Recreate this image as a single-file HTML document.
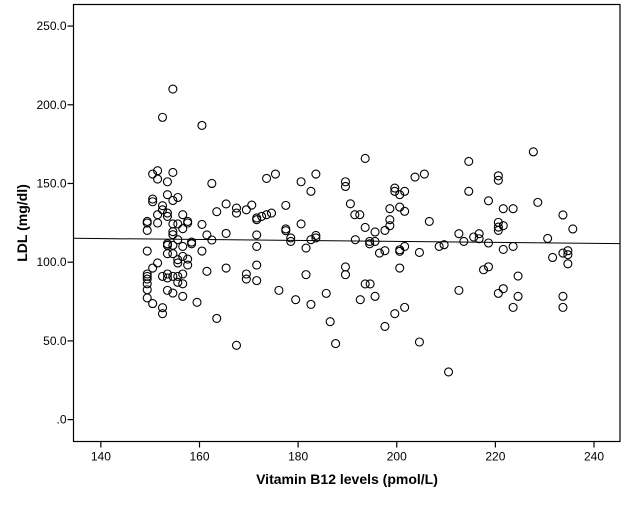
<!DOCTYPE html>
<html><head><meta charset="utf-8"><style>
html,body{margin:0;padding:0;background:#fff;}
svg{display:block;font-family:"Liberation Sans",Arial,sans-serif;}
</style></head><body>
<svg id="chart" width="625" height="526" viewBox="0 0 625 526">
<rect x="73.5" y="4.5" width="546.5" height="437" fill="#fff" stroke="#000" stroke-width="1.2"/>
<g id="xticks"></g>
<g id="yticks"></g>
<g id="fit"></g>
<g id="points"></g>
<text x="347" y="484" text-anchor="middle" font-size="14" font-weight="bold">Vitamin B12 levels (pmol/L)</text>
<text x="0" y="0" transform="translate(27,223) rotate(-90)" text-anchor="middle" font-size="14" font-weight="bold">LDL (mg/dl)</text>
</svg>
<script>
const xTicks=[140,160,180,200,220,240];
const yTicks=[0,50,100,150,200,250];
const yTickLabels=[".0","50.0","100.0","150.0","200.0","250.0"];
const b12=[154.6,152.5,160.5,150.5,151.5,151.5,154.6,153.5,162.5,173.6,175.4,150.5,150.5,152.5,153.5,154.6,155.6,152.5,151.5,153.5,153.5,149.4,149.4,149.4,151.5,154.6,155.6,156.6,156.6,157.6,157.6,160.5,163.5,165.4,167.5,167.5,169.5,170.6,171.6,171.6,172.6,173.6,174.6,154.6,154.6,155.6,153.5,153.5,154.6,158.4,158.4,161.5,162.5,165.4,171.6,171.6,156.6,149.4,153.5,154.6,160.5,155.6,155.6,156.6,157.6,157.6,151.5,150.5,149.4,149.4,149.4,149.4,149.4,149.4,150.5,152.5,152.5,152.5,153.5,153.5,154.6,155.6,156.6,155.6,156.6,153.5,154.6,156.6,159.5,161.5,165.4,169.5,169.5,171.6,171.6,163.5,167.5,176.1,
180.6,183.6,182.6,189.6,189.6,193.6,203.7,205.6,199.6,199.6,200.6,201.6,177.5,190.6,191.5,192.5,198.6,200.6,201.6,198.6,198.6,197.6,193.6,195.6,206.6,180.6,177.5,177.5,178.5,178.5,182.6,183.6,183.6,181.6,191.6,194.5,194.5,195.6,196.5,197.6,200.6,200.6,201.6,204.6,208.6,209.6,181.6,189.6,189.6,200.6,179.5,182.6,185.7,193.6,194.6,192.6,195.6,199.6,201.6,186.5,197.6,187.6,204.6,210.5,
227.7,214.6,220.6,220.6,214.6,218.6,228.6,221.6,223.6,233.7,220.6,220.6,220.6,221.6,235.7,212.6,216.7,215.6,216.7,213.6,218.6,230.6,221.6,223.6,231.6,233.7,234.7,234.7,234.7,217.6,218.6,224.6,212.6,220.6,221.6,224.6,223.6,233.7,233.7];
const ldl=[210,192,186.9,156,158.1,152.8,157,151.1,150,153.2,156,140.1,138.4,135.9,142.9,139.2,141.1,133.3,130.2,131.2,129.1,125.9,124.9,120.2,124.9,124.3,124.3,130.2,121.3,125.9,124.9,124,132.1,137,134.4,131.2,133.3,136.3,128.1,127,129.1,130.2,131.2,119.4,117.5,114.3,111.7,110.7,110.7,112.8,111.7,117.3,114.1,118.3,117.3,110,110,107.1,105.4,105.4,107.1,101.6,99.5,103.7,102,98.2,99.5,96.3,92.5,91,89.3,86.3,82.5,77.3,73.7,71.1,67.3,91,92.5,90,91,91,92.5,87.2,86.3,82.1,80.4,78.3,74.5,94.2,96.3,92.5,89.3,98.2,88.3,64.3,47.2,82.1,
151.1,156,145,151.1,148.1,165.9,154.1,156,147.1,145,142.9,145,136.1,137.1,130.2,130.2,134,135,132.3,127,123.2,120.2,122.1,119.2,125.9,124.3,121.1,120,115.4,113.2,114.3,117,115.4,109,114.3,113.2,111.7,113.2,105.8,107.3,107.9,106.9,110,106.2,110,111.1,92.1,97,92.1,96.3,76.2,73.2,80.2,86.2,86.2,76.2,78.3,67.3,71.3,62.2,59.2,48.3,49.3,30.3,
170.1,164,154.9,152,145,139,138,134,134,130,125.3,122.3,120.2,123.2,121.1,118.1,118.1,116,114.9,113.2,112.2,115.1,108.1,110,103,105.8,107.3,104.8,99,95.2,97.1,91.2,82.1,80.2,83.2,78.3,71.3,78.3,71.3];

const NS="http://www.w3.org/2000/svg";
const X0=73.5,X1=620,Y0=441.5,Y1=4.5;
const xMin=134.45,xMax=245.27,yMin=-13.9,yMax=263.7;
function sx(v){return X0+(v-xMin)/(xMax-xMin)*(X1-X0);}
function sy(v){return Y0-(v-yMin)/(yMax-yMin)*(Y0-Y1);}
function mk(tag,attrs,parent){const e=document.createElementNS(NS,tag);for(const k in attrs)e.setAttribute(k,attrs[k]);parent.appendChild(e);return e;}

const gx=document.getElementById('xticks');
xTicks.forEach(t=>{
  const l=mk('line',{x1:sx(t),x2:sx(t),y1:Y0,y2:Y0+6,stroke:'#000','stroke-width':1.2},gx);
  
  
  const tx=mk('text',{x:sx(t),y:Y0+19,'text-anchor':'middle','font-size':12},gx);
  tx.textContent=t;
  
  
});
const gy=document.getElementById('yticks');
yTicks.forEach((t,i)=>{
  const l=mk('line',{x1:X0-6,x2:X0,y1:sy(t),y2:sy(t),stroke:'#000','stroke-width':1.2},gy);
  
  
  const tx=mk('text',{x:X0-7,y:sy(t)+4,'text-anchor':'end','font-size':12},gy);
  tx.textContent=yTickLabels[i];
  
  
});
// linear fit
const n=Math.min(b12.length,ldl.length);
let mx=0,my=0;for(let i=0;i<n;i++){mx+=b12[i];my+=ldl[i];}mx/=n;my/=n;
let sxy=0,sxx=0;for(let i=0;i<n;i++){sxy+=(b12[i]-mx)*(ldl[i]-my);sxx+=(b12[i]-mx)**2;}
const slope=sxy/sxx,icpt=my-slope*mx;
const fl=mk('line',{x1:X0,x2:X1,y1:sy(icpt+slope*xMin),y2:sy(icpt+slope*xMax),stroke:'#000','stroke-width':1},document.getElementById('fit'));


const gp=document.getElementById('points');
for(let i=0;i<n;i++){
  const c=mk('circle',{cx:sx(b12[i]),cy:sy(ldl[i]),r:4,fill:'none',stroke:'#000','stroke-width':1.1},gp);
  
  
}
</script>
</body></html>
